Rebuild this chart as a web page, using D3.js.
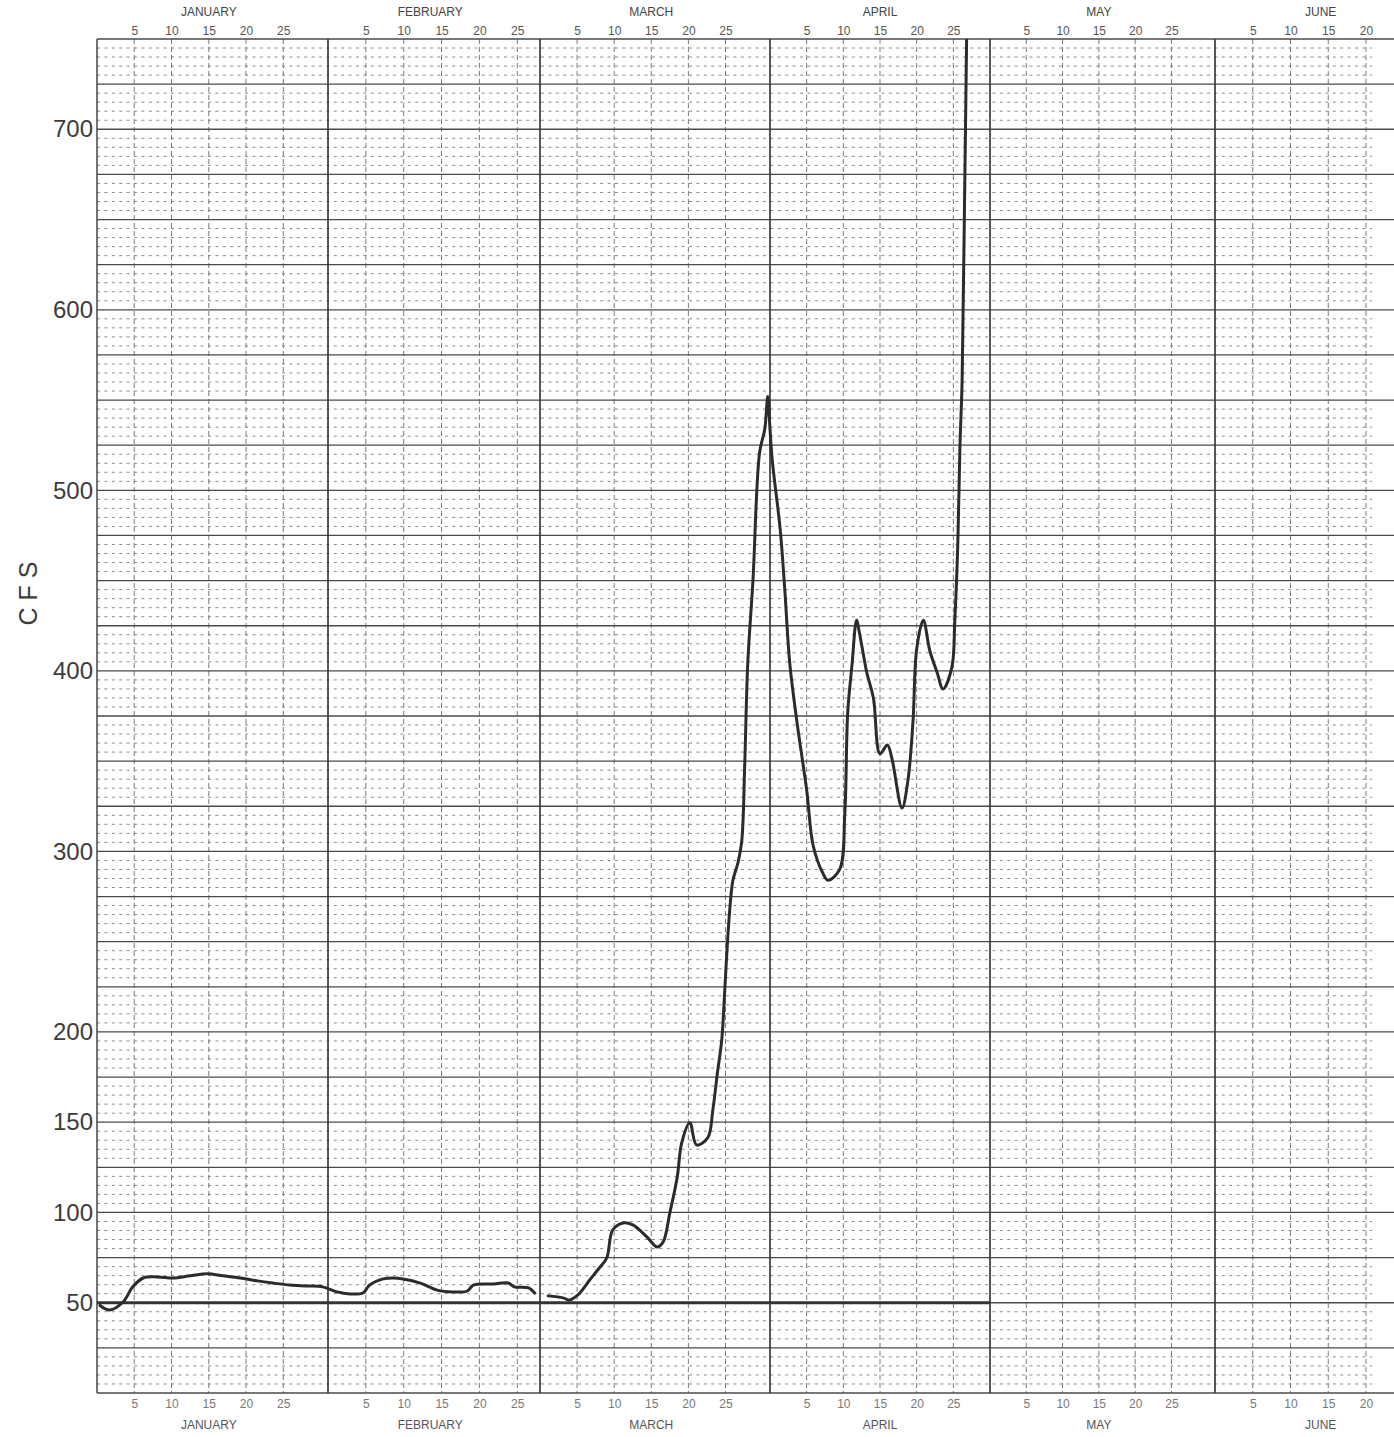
<!DOCTYPE html>
<html><head><meta charset="utf-8">
<script src="https://cdn.jsdelivr.net/npm/d3@7"></script>
<style>
html,body{margin:0;padding:0;background:#fff;}
svg{display:block;}
text{font-family:"Liberation Sans",Arial,sans-serif;}
</style></head>
<body><div id="chart"></div>
<script>
// ---------- DATA ----------
const months = ["JANUARY","FEBRUARY","MARCH","APRIL","MAY","JUNE"];
const monthStartDay = [0,31,59,90,120,151];      // cumulative day number at end of previous month
const monthDayTicks = [5,10,15,20,25];
const juneDayTicks = [5,10,15,20];
const yTickLabels = [50,100,150,200,300,400,500,600,700];

// Segment 1: January - February (cumulative day number, cfs)
const janFebDays = [0.4,1.7,3.5,4.8,6.2,8.1,10.2,12.5,14.8,16.9,19.2,21.5,23.6,25.9,28.2,30.3,32.2,33.9,35.6,36.5,38.3,39.6,40.9,43.2,45.4,47.5,49.4,50.2,52.9,54.8,55.6,57.5,58.3];
const janFebCfs  = [48.5,46,50.4,58.8,63.7,64.3,63.7,64.9,66,64.9,63.7,62.1,60.9,59.8,59.3,58.8,56,54.9,55.4,59.8,63.2,63.7,63.2,60.9,57,56,56.5,59.8,60.4,60.9,58.8,58.2,55.4];

// Segment 2: March - April
const marAprDays = [60.1,62.1,63.0,64.1,65.7,67.1,68.0,68.8,70.2,71.5,73.4,74.8,75.6,76.5,77.5,78.1,79.2,80.1,81.6,82.3,82.9,83.5,83.9,84.2,84.6,85.0,85.7,86.2,86.6,87.0,87.7,88.6,89.3,89.7,90.0,90.3,91.4,92.0,92.7,93.7,95.0,95.9,97.2,97.9,99.5,100.2,100.6,101.2,101.8,102.2,103.2,104.1,105.0,106.0,106.6,108.0,108.8,109.5,110.0,110.9,111.8,112.8,113.6,114.8,115.2,115.6,115.9,116.2,116.5,116.9];
const marAprCfs  = [53.8,52.7,51.5,54.3,62.6,69.8,74.8,90.3,94.2,93.1,86.5,80.9,83.7,99.8,119.7,138.6,149.7,137.4,141.3,156.9,177,195.7,223,245,269,284,294,306,349,404,450,521,534,552,534,517,478,446,404,371,334,303,288,284,290,321,377,404,428,421,399,385,354,359,352,324,339,372,412,428,411,399,390,402,428,469,524,561,650,780];

// ---------- LAYOUT ----------
const W = 1394, H = 1437;
const pLeft = 97, pTop = 39, pBottom = 1393, pRight = 1394;

const svg = d3.select("#chart").append("svg").attr("width", W).attr("height", H);

const x = d3.scaleLinear()
  .domain([0,31,59,90,120,151,171])
  .range([97,328,540,770,990,1215,1366]);
const y = d3.scaleLinear().domain([0,750]).range([pBottom, pTop]);

const grid = svg.append("g");

// minor horizontal dotted lines every 5 cfs
grid.selectAll("line.hmin").data(d3.range(5,750,5).filter(v => v % 25 !== 0))
  .join("line").attr("class","hmin")
  .attr("x1", pLeft).attr("x2", pRight - 22)
  .attr("y1", d => y(d)).attr("y2", d => y(d))
  .attr("stroke", "#8a8a8a").attr("stroke-width", 1)
  .attr("stroke-dasharray", "3,4.4");

// 5-day vertical dashed lines
const fiveDays = [];
monthStartDay.forEach((s, i) => {
  (i === 5 ? juneDayTicks : monthDayTicks).forEach(dd => fiveDays.push(s + dd));
});
grid.selectAll("line.v5").data(fiveDays).join("line").attr("class","v5")
  .attr("x1", d => x(d)).attr("x2", d => x(d))
  .attr("y1", pTop).attr("y2", pBottom)
  .attr("stroke", "#7a7a7a").attr("stroke-width", 1)
  .attr("stroke-dasharray", "5,3");

// major horizontal lines every 25 cfs
grid.selectAll("line.hmaj").data(d3.range(25,751,25))
  .join("line").attr("class","hmaj")
  .attr("x1", pLeft).attr("x2", pRight)
  .attr("y1", d => y(d)).attr("y2", d => y(d))
  .attr("stroke", "#4a4a4a").attr("stroke-width", d => d === 750 ? 1.6 : 1.3);

// bottom border
grid.append("line").attr("x1", pLeft).attr("x2", pRight)
  .attr("y1", y(0)).attr("y2", y(0)).attr("stroke", "#4a4a4a").attr("stroke-width", 1.5);

// month lines
grid.selectAll("line.vm").data(monthStartDay).join("line").attr("class","vm")
  .attr("x1", d => x(d)).attr("x2", d => x(d))
  .attr("y1", pTop).attr("y2", pBottom)
  .attr("stroke", "#3a3a3a").attr("stroke-width", d => d === 0 ? 1.4 : 1.7);

// heavy 50 cfs base line
grid.append("line").attr("x1", pLeft).attr("x2", x(120))
  .attr("y1", y(50)).attr("y2", y(50)).attr("stroke", "#333").attr("stroke-width", 3);

// ---------- AXES (labels only) ----------
const dayFmt = d => { const i = d3.bisectRight(monthStartDay, d) - 1; return String(d - monthStartDay[i]); };
const topAxis = d3.axisTop(x).tickValues(fiveDays).tickFormat(dayFmt).tickSize(0).tickPadding(0);
const gTop = svg.append("g").attr("transform", `translate(0,${pTop - 4})`).call(topAxis);
gTop.select(".domain").remove();
gTop.selectAll("text").attr("font-size", 12).attr("fill", "#555").attr("font-family", "'Liberation Sans',Arial,sans-serif");

const botAxis = d3.axisBottom(x).tickValues(fiveDays).tickFormat(dayFmt).tickSize(0).tickPadding(0);
const gBot = svg.append("g").attr("transform", `translate(0,${pBottom + 6})`).call(botAxis);
gBot.select(".domain").remove();
gBot.selectAll("text").attr("font-size", 12).attr("fill", "#777").attr("font-family", "'Liberation Sans',Arial,sans-serif");

// month names
const monthLabelDay = (i) => monthStartDay[i] + (i === 1 ? 13.5 : (i === 5 ? 14 : 15));
svg.selectAll("text.mtop").data(months).join("text").attr("class","mtop")
  .attr("x", (d,i) => x(monthLabelDay(i)))
  .attr("y", 16).attr("text-anchor","middle")
  .attr("font-size", 12).attr("fill", "#444").text(d => d);
svg.selectAll("text.mbot").data(months).join("text").attr("class","mbot")
  .attr("x", (d,i) => x(monthLabelDay(i)))
  .attr("y", 1429).attr("text-anchor","middle")
  .attr("font-size", 12).attr("fill", "#555").text(d => d);

// y labels
const leftAxis = d3.axisLeft(y).tickValues(yTickLabels).tickSize(0).tickPadding(3);
const gLeft = svg.append("g").attr("transform", `translate(${pLeft - 1},0)`).call(leftAxis);
gLeft.select(".domain").remove();
gLeft.selectAll("text").attr("font-size", 24).attr("fill", "#3c3c3c")
  .attr("font-family", "'Liberation Sans',Arial,sans-serif");

svg.append("text").attr("transform", "translate(37,590) rotate(-90)")
  .attr("text-anchor","middle").attr("font-size", 25).attr("fill","#3c3c3c")
  .attr("letter-spacing", 7).text("CFS");

// ---------- HYDROGRAPH ----------
svg.append("clipPath").attr("id","plotclip").append("rect")
  .attr("x", pLeft).attr("y", pTop).attr("width", pRight - pLeft).attr("height", pBottom - pTop);

const line = d3.line().x(d => x(d[0])).y(d => y(d[1])).curve(d3.curveCatmullRom.alpha(0.5));
const segs = [d3.zip(janFebDays, janFebCfs), d3.zip(marAprDays, marAprCfs)];
svg.append("g").attr("clip-path","url(#plotclip)")
  .selectAll("path").data(segs).join("path")
  .attr("d", line).attr("fill","none")
  .attr("stroke","#2b2b2b").attr("stroke-width", 3)
  .attr("stroke-linejoin","round").attr("stroke-linecap","round");
</script></body></html>
